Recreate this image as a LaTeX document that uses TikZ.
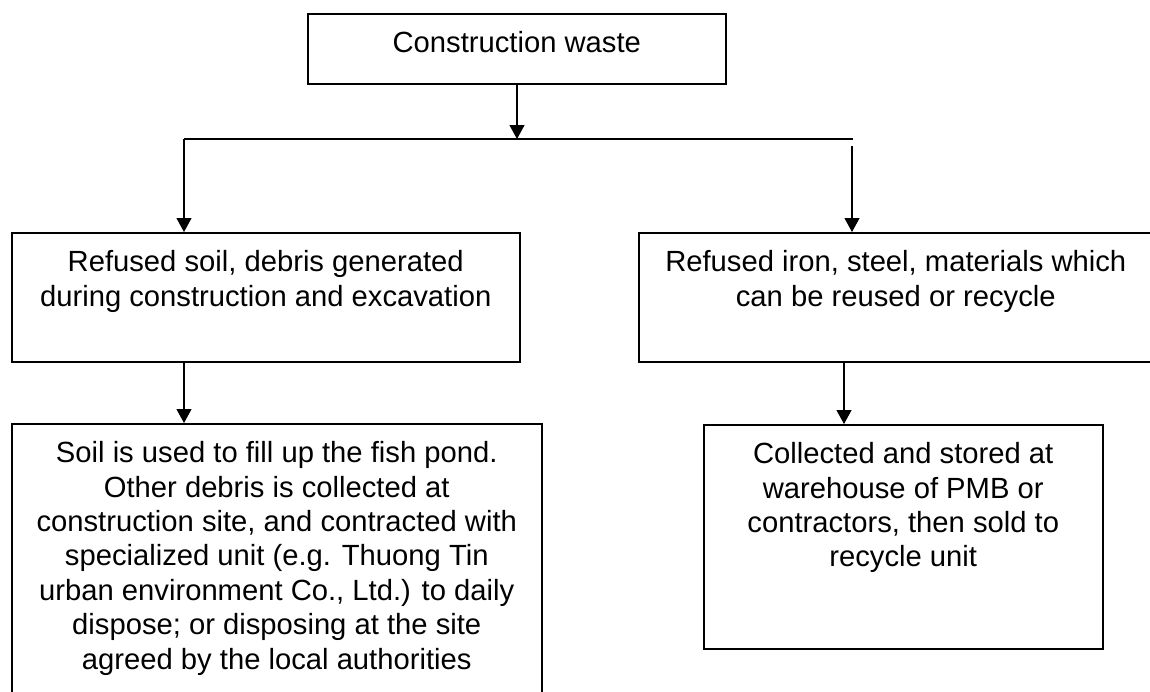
\documentclass[tikz,border=0pt]{standalone}
\usepackage{fontspec}
\setmainfont{Liberation Sans}
\usetikzlibrary{arrows.meta}

\newcommand{\boxtext}[3]{\parbox[t][#2][t]{#1}{\centering\rule{0pt}{19.5pt}#3}}

\tikzset{
	box/.style={draw, line width=0.75pt, inner sep=0pt, anchor=north west,
		font=\fontsize{14.6pt}{17.2pt}\selectfont},
	arr/.style={-{Triangle[length=7pt,width=7.5pt]}, line width=0.6pt},
	link/.style={line width=0.6pt}
}

\begin{document}
\begin{tikzpicture}[x=0.5pt, y=-0.5pt]
	\useasboundingbox (0,0) rectangle (1150,691);
	\clip (0,0) rectangle (1150,691);

	\node[box] at (307, 13)  (waste) {\boxtext{209pt}{35pt}{Construction waste}};

	\node[box] at (11, 232)  (soil)  {\boxtext{254pt}{64.5pt}{Refused soil, debris generated\\during construction and excavation}};
	\node[box] at (638, 232) (iron)  {\boxtext{257pt}{64.5pt}{Refused iron, steel, materials which\\can be reused or recycle}};

	\node[box] at (11, 423)  (fill)  {\boxtext{265pt}{140pt}{Soil is used to fill up the fish pond.\\Other debris is collected at\\construction site, and contracted with\\specialized unit (e.g. Thuong Tin\\urban environment Co., Ltd.) to daily\\dispose; or disposing at the site\\agreed by the local authorities}};
	\node[box] at (703, 424) (store) {\boxtext{199.5pt}{112pt}{Collected and stored at\\warehouse of PMB or\\contractors, then sold to\\recycle unit}};

	\coordinate (fork)  at (517, 139);
	\coordinate (forkL) at (184, 139);
	\coordinate (forkR) at (853, 139);
	\coordinate (gapR)  at (852, 146);
	\coordinate (dropR) at (844, 361);

	\draw[arr] (waste.south -| fork) -- (fork);
	\draw[link] (forkL) -- (forkR);
	\draw[arr] (forkL) -- (forkL |- soil.north);
	\draw[arr] (gapR) -- (gapR |- iron.north);
	\draw[arr] (forkL |- soil.south) -- (forkL |- fill.north);
	\draw[arr] (dropR |- iron.south) -- (dropR |- store.north);
\end{tikzpicture}
\end{document}
